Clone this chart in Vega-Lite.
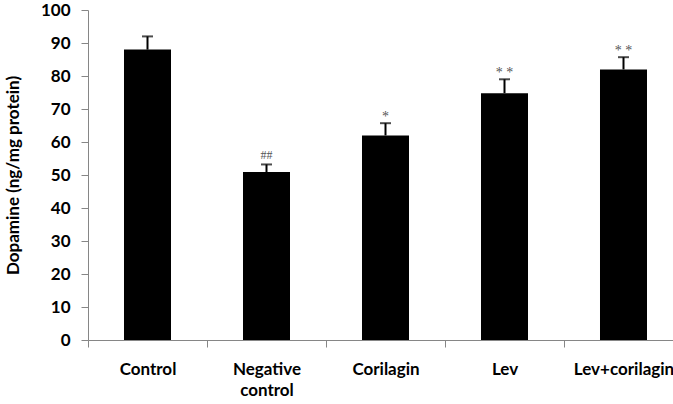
{
  "$schema": "https://vega.github.io/schema/vega-lite/v6.json",
  "autosize": {"type": "none"},
  "padding": {"left": 88, "top": 10, "right": 0, "bottom": 64},
  "width": 585,
  "height": 330,
  "background": "white",
  "config": {"view": {"stroke": null}, "font": "Lato"},
  "data": {"values": [
    {"group": "Control", "mean": 88, "upper": 92, "sig": ""},
    {"group": "Negative control", "mean": 50.9, "upper": 53.2, "sig": "##"},
    {"group": "Corilagin", "mean": 62, "upper": 65.7, "sig": "*"},
    {"group": "Lev", "mean": 74.8, "upper": 79, "sig": "* *"},
    {"group": "Lev+corilagin", "mean": 82, "upper": 85.7, "sig": "* *"}
  ]},
  "encoding": {
    "x": {
      "field": "group", "type": "nominal", "sort": null,
      "scale": {"type": "band", "range": [0, 595], "paddingInner": 0, "paddingOuter": 0},
      "axis": {
        "title": null, "labelAngle": 0, "tickBand": "extent",
        "domainColor": "#868686", "tickColor": "#868686", "tickSize": 7,
        "labelFont": "Lato", "labelFontWeight": "bold", "labelFontSize": 17, "labelColor": "#000",
        "labelPadding": 14, "labelLineHeight": 21,
        "labelExpr": "datum.value == 'Negative control' ? ['Negative', 'control'] : datum.value"
      }
    }
  },
  "layer": [
    {
      "mark": {"type": "bar", "color": "#000", "width": {"band": 0.395}},
      "encoding": {
        "y": {
          "field": "mean", "type": "quantitative",
          "scale": {"domain": [0, 100], "nice": false},
          "axis": {
            "title": "Dopamine (ng/mg protein)", "values": [0, 10, 20, 30, 40, 50, 60, 70, 80, 90, 100],
            "tickCount": 20, "labelOverlap": false,
            "grid": false, "domainColor": "#868686", "tickColor": "#868686", "tickSize": 7,
            "labelFont": "Lato", "labelFontWeight": "bold", "labelFontSize": 17, "labelColor": "#000", "labelPadding": 11,
            "titleFont": "Lato", "titleFontWeight": "bold", "titleFontSize": 17, "titleColor": "#000", "titlePadding": 18
          }
        }
      }
    },
    {
      "mark": {"type": "rule", "color": "#000", "strokeWidth": 2},
      "encoding": {"y": {"field": "mean", "type": "quantitative"}, "y2": {"field": "upper"}}
    },
    {
      "mark": {"type": "tick", "color": "#000", "thickness": 2, "size": 11},
      "encoding": {"y": {"field": "upper", "type": "quantitative"}}
    },
    {
      "transform": [{"filter": "indexof(datum.sig, '*') >= 0"}],
      "mark": {"type": "text", "color": "#555", "font": "Liberation Serif", "fontSize": 14, "baseline": "alphabetic", "dy": -2},
      "encoding": {"y": {"field": "upper", "type": "quantitative"}, "text": {"field": "sig"}}
    },
    {
      "transform": [{"filter": "datum.sig == '##'"}],
      "mark": {"type": "text", "color": "#555", "font": "Liberation Serif", "fontSize": 12, "baseline": "alphabetic", "dy": -5},
      "encoding": {"y": {"field": "upper", "type": "quantitative"}, "text": {"field": "sig"}}
    }
  ]
}
